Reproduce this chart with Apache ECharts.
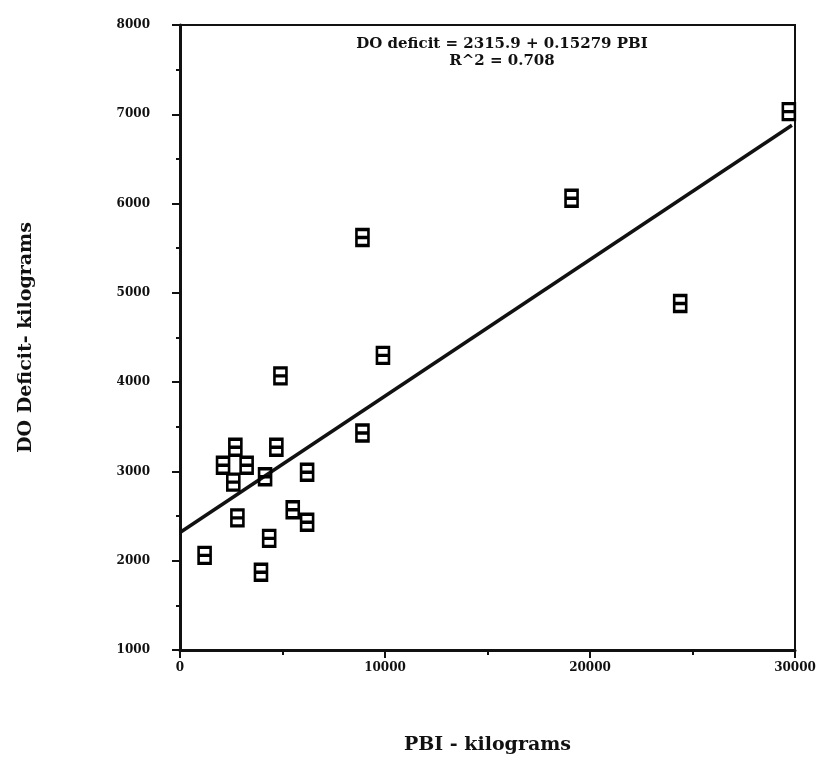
<!DOCTYPE html>
<html>
<head>
<meta charset="utf-8">
<script src="https://cdn.jsdelivr.net/npm/echarts@6/dist/echarts.min.js"></script>
<style>
  html, body { margin: 0; padding: 0; background: #fff; }
  #chart { width: 834px; height: 762px; }
</style>
</head>
<body>
<div id="chart"></div>
<script>
// PBI (kg) vs DO deficit (kg)
const pbi = [2700, 4700, 2100, 3250, 2600, 4150, 6200, 2800, 5500, 6200, 4350, 1200, 3950, 4900, 8900, 9900, 8900, 19100, 24400, 29700]
const doDeficit = [3270, 3270, 3070, 3070, 2880, 2940, 2990, 2480, 2570, 2430, 2250, 2060, 1870, 4070, 5620, 4300, 3430, 6060, 4880, 7030]

// regression reported on the figure
const intercept = 2315.9
const slope = 0.15279
const fitX = [0, 29850]

const xTicks = ['0', '10000', '20000', '30000']

const font = 'DejaVu Serif'
const points = pbi.map((x, i) => [x, doDeficit[i]])
const fitLine = fitX.map(x => [x, intercept + slope * x])

let myChart = echarts.init(document.getElementById('chart'))

const option = {
  backgroundColor: '#fff',
  animation: false,
  grid: {
    left: 180, right: 39, top: 25, bottom: 112,
    show: true, borderColor: '#111', borderWidth: 2
  },
  xAxis: {
    type: 'value', min: 0, max: 30000, interval: 10000,
    name: 'PBI - kilograms', nameLocation: 'middle', nameGap: 86,
    nameTextStyle: { fontFamily: font, fontWeight: 'bold', fontSize: 19, color: '#111' },
    axisLine: { lineStyle: { color: '#111', width: 3 } },
    axisTick: { length: 8, lineStyle: { color: '#111', width: 2 } },
    minorTick: { show: true, splitNumber: 2, length: 5, lineStyle: { color: '#111', width: 2 } },
    splitLine: { show: false },
    axisLabel: {
      margin: 12, fontFamily: font, fontWeight: 'bold', fontSize: 12, color: '#111',
      formatter: v => xTicks.includes(String(v)) ? String(v) : ''
    }
  },
  yAxis: {
    type: 'value', min: 1000, max: 8000, interval: 1000,
    name: 'DO Deficit- kilograms', nameLocation: 'middle', nameGap: 144,
    nameTextStyle: { fontFamily: font, fontWeight: 'bold', fontSize: 19, color: '#111' },
    axisLine: { show: true, lineStyle: { color: '#111', width: 3 } },
    axisTick: { show: true, length: 8, lineStyle: { color: '#111', width: 2 } },
    minorTick: { show: true, splitNumber: 2, length: 4, lineStyle: { color: '#111', width: 2 } },
    splitLine: { show: false },
    axisLabel: {
      margin: 30, fontFamily: font, fontWeight: 'bold', fontSize: 12, color: '#111',
      formatter: v => String(v)
    }
  },
  graphic: [
    {
      type: 'text', x: 502, y: 36,
      style: {
        text: 'DO deficit = 2315.9 + 0.15279 PBI\nR^2 = 0.708',
        align: 'center', lineHeight: 17,
        font: 'bold 15px "DejaVu Serif"', fill: '#111'
      }
    }
  ],
  series: [
    {
      type: 'line', data: fitLine, symbol: 'none', silent: true,
      lineStyle: { color: '#111', width: 3.5 }, z: 2
    },
    {
      type: 'scatter', data: points,
      symbol: 'path://M0,0 L12,0 L12,16 L0,16 Z M0,8 L12,8',
      symbolSize: [12, 16],
      itemStyle: { color: 'rgba(255,255,255,0)', borderColor: '#000', borderWidth: 3, opacity: 1 },
      z: 3
    }
  ]
}

myChart.setOption(option)
</script>
</body>
</html>
